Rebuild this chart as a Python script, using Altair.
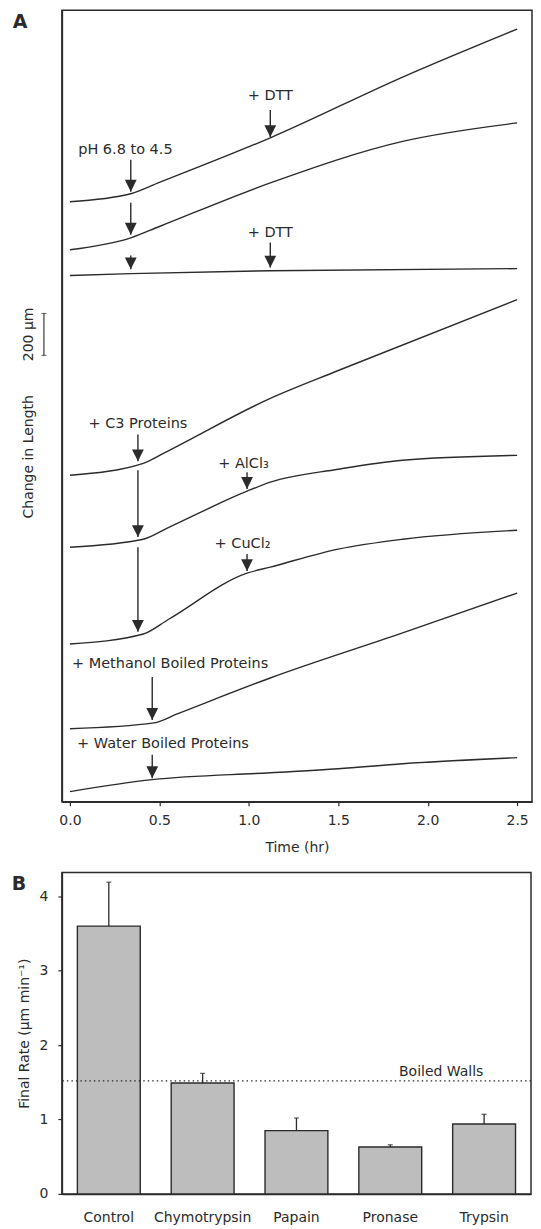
import altair as alt
import pandas as pd

FONT = "DejaVu Sans"
INK = "#2b2b2b"

# ---------------- Panel A: extension traces (time in hr, length in µm, offset per trace)
ph_t = [0.0, 0.34, 0.5, 1.12, 1.86, 2.5]
ph_um = [2862, 2900, 2954, 3167, 3457, 3686]
ph2_t = [0.0, 0.34, 0.5, 1.12, 1.86, 2.5]
ph2_um = [2633, 2690, 2744, 2952, 3150, 3238]
ph3_t = [0.0, 0.34, 1.12, 2.5]
ph3_um = [2510, 2519, 2533, 2543]
c3_t = [0.0, 0.41, 0.55, 1.12, 1.5, 2.5]
c3_um = [1557, 1614, 1674, 1924, 2057, 2395]
al_t = [0.0, 0.41, 0.55, 0.99, 1.12, 1.5, 1.86, 2.5]
al_um = [1214, 1252, 1307, 1481, 1524, 1586, 1629, 1652]
cu_t = [0.0, 0.41, 0.55, 0.99, 1.12, 1.5, 1.86, 2.5]
cu_um = [752, 800, 869, 1090, 1119, 1205, 1252, 1295]
meoh_t = [0.0, 0.47, 0.6, 1.12, 1.86, 2.5]
meoh_um = [348, 376, 419, 590, 805, 995]
water_t = [0.0, 0.46, 1.12, 1.5, 1.86, 2.5]
water_um = [48, 105, 138, 157, 181, 210]

# arrows: time, start, tip (µm)
arrow_t = [0.34, 0.34, 0.34, 1.12, 1.12, 0.38, 0.38, 0.38, 0.99, 0.99, 0.46, 0.46]
arrow_from = [3062, 2857, 2605, 3300, 2667, 1752, 1581, 1214, 1571, 1181, 595, 224]
arrow_to = [2910, 2705, 2540, 3171, 2548, 1624, 1262, 810, 1492, 1100, 390, 112]

# annotation labels
label_text = ["pH 6.8 to 4.5", "+ DTT", "+ DTT", "+ C3 Proteins", "+ AlCl\u2083",
              "+ CuCl\u2082", "+ Methanol Boiled Proteins", "+ Water Boiled Proteins"]
label_t = [0.31, 1.12, 1.12, 0.38, 0.97, 0.965, 0.56, 0.52]
label_um = [3110, 3367, 2714, 1800, 1610, 1229, 657, 276]

# 200 µm scale bar
scalebar_um = [2129, 2329]

# ---------------- Panel B: final rates
enzymes = ["Control", "Chymotrypsin", "Papain", "Pronase", "Trypsin"]
rates = [3.60, 1.49, 0.85, 0.63, 0.94]
rate_err = [0.59, 0.13, 0.17, 0.03, 0.13]
boiled_walls = 1.52

# ---------------- build tables
traces = []
for name, ts, us in [("ph", ph_t, ph_um), ("ph2", ph2_t, ph2_um), ("ph3", ph3_t, ph3_um),
                     ("c3", c3_t, c3_um), ("al", al_t, al_um), ("cu", cu_t, cu_um),
                     ("meoh", meoh_t, meoh_um), ("water", water_t, water_um)]:
    for t, u in zip(ts, us):
        traces.append({"trace": name, "t": t, "um": u})
trace_df = pd.DataFrame(traces)
arrow_df = pd.DataFrame({"t": arrow_t, "y0": arrow_from, "y1": arrow_to})
label_df = pd.DataFrame({"t": label_t, "um": label_um, "text": label_text})
sb_df = pd.DataFrame({"lo": [scalebar_um[0]], "hi": [scalebar_um[1]],
                      "mid": [(scalebar_um[0] + scalebar_um[1]) / 2], "text": ["200 \u00b5m"]})
sb_ends = pd.DataFrame({"um": scalebar_um})

xs = alt.Scale(domain=[-0.045, 2.583], nice=False, zero=False)
ys = alt.Scale(domain=[0, 3776], nice=False, zero=False)

x_enc = alt.X("t:Q", scale=xs, axis=alt.Axis(
    values=[0, 0.5, 1.0, 1.5, 2.0, 2.5], format=".1f", title="Time (hr)",
    grid=False, tickSize=4, labelPadding=8, titlePadding=13))
y_enc = alt.Y("um:Q", scale=ys, axis=alt.Axis(
    title="Change in Length", labels=False, ticks=False, grid=False,
    titleX=-33, titleY=447, titleBaseline="middle"))

lines = alt.Chart(trace_df).mark_line(color=INK, strokeWidth=1.4, interpolate="monotone").encode(
    x=x_enc, y=y_enc, detail="trace:N")

shafts = alt.Chart(arrow_df).mark_rule(color=INK, strokeWidth=1.4).encode(
    x=alt.X("t:Q", scale=xs), y=alt.Y("y0:Q", scale=ys), y2="y1:Q")

heads = alt.Chart(arrow_df).mark_point(
    shape="M-1,-2L1,-2L0,0Z", filled=True, size=140, color=INK, opacity=1).encode(
    x=alt.X("t:Q", scale=xs), y=alt.Y("y1:Q", scale=ys))

labels = alt.Chart(label_df).mark_text(font=FONT, fontSize=14.5, color=INK).encode(
    x=alt.X("t:Q", scale=xs), y=alt.Y("um:Q", scale=ys), text="text:N")

sb_rule = alt.Chart(sb_df).mark_rule(color=INK, strokeWidth=1.1).encode(
    x=alt.value(-18), y=alt.Y("lo:Q", scale=ys), y2="hi:Q")
sb_caps = alt.Chart(sb_ends).mark_tick(color=INK, orient="horizontal", size=5, thickness=1.1).encode(
    x=alt.value(-18), y=alt.Y("um:Q", scale=ys))
sb_text = alt.Chart(sb_df).mark_text(font=FONT, fontSize=14, color=INK, angle=270,
                                     baseline="middle").encode(
    x=alt.value(-33), y=alt.Y("mid:Q", scale=ys), text="text:N")

tag_a = alt.Chart(pd.DataFrame({"tag": ["A"]})).mark_text(
    font=FONT, fontSize=19, fontWeight="bold", color=INK).encode(
    x=alt.value(-42), y=alt.value(12), text="tag:N")

panel_a = alt.layer(lines, shafts, heads, labels, sb_rule, sb_caps, sb_text, tag_a).properties(
    width=471, height=793)

# ---------------- Panel B
bar_df = pd.DataFrame({"enzyme": enzymes, "rate": rates,
                       "top": [r + e for r, e in zip(rates, rate_err)]})
bx = alt.X("enzyme:N", sort=enzymes,
           scale=alt.Scale(paddingInner=0.33, paddingOuter=0.165),
           axis=alt.Axis(title=None, labelAngle=0, ticks=False, labelPadding=17,
                         labelFontSize=14))
by_scale = alt.Scale(domain=[0, 4.32], nice=False, zero=True)

bars = alt.Chart(bar_df).mark_bar(fill="#bdbdbd", stroke=INK, strokeWidth=1.4).encode(
    x=bx,
    y=alt.Y("rate:Q", scale=by_scale, axis=alt.Axis(
        values=[0, 1, 2, 3, 4], format="d", title="Final Rate (\u00b5m min\u207b\u00b9)",
        grid=False, tickSize=4, labelPadding=10, titlePadding=8)))

err = alt.Chart(bar_df).mark_rule(color=INK, strokeWidth=1.3).encode(
    x=alt.X("enzyme:N", sort=enzymes), y=alt.Y("rate:Q", scale=by_scale), y2="top:Q")
caps = alt.Chart(bar_df).mark_tick(color=INK, orient="horizontal", size=5, thickness=1.3).encode(
    x=alt.X("enzyme:N", sort=enzymes), y=alt.Y("top:Q", scale=by_scale))

boiled_df = pd.DataFrame({"rate": [boiled_walls], "text": ["Boiled Walls"], "enzyme": ["Trypsin"]})
boiled_rule = alt.Chart(boiled_df).mark_rule(color=INK, strokeWidth=1.3, strokeDash=[1.5, 3]).encode(
    y=alt.Y("rate:Q", scale=by_scale))
boiled_text = alt.Chart(boiled_df).mark_text(font=FONT, fontSize=14, color=INK,
                                             baseline="bottom", dx=-43, dy=-2).encode(
    x=alt.X("enzyme:N", sort=enzymes), y=alt.Y("rate:Q", scale=by_scale), text="text:N")

tag_b = alt.Chart(pd.DataFrame({"tag": ["B"]})).mark_text(
    font=FONT, fontSize=19, fontWeight="bold", color=INK).encode(
    x=alt.value(-43), y=alt.value(12), text="tag:N")

panel_b = alt.layer(bars, err, caps, boiled_rule, boiled_text, tag_b).properties(
    width=470, height=322)

chart = alt.vconcat(panel_a, panel_b, spacing=16).properties(
    padding={"left": 3, "top": 0, "right": 0, "bottom": 0},
    background="white"
).configure_view(
    stroke=INK, strokeWidth=1.5
).configure_axis(
    domainColor=INK, domainWidth=1.5, tickColor=INK, tickWidth=1.2,
    labelFont=FONT, labelFontSize=14, labelColor=INK,
    titleFont=FONT, titleFontSize=14, titleColor=INK, titleFontWeight="normal"
)

chart.save("out.html", embed_options={"renderer": "svg", "actions": False})
